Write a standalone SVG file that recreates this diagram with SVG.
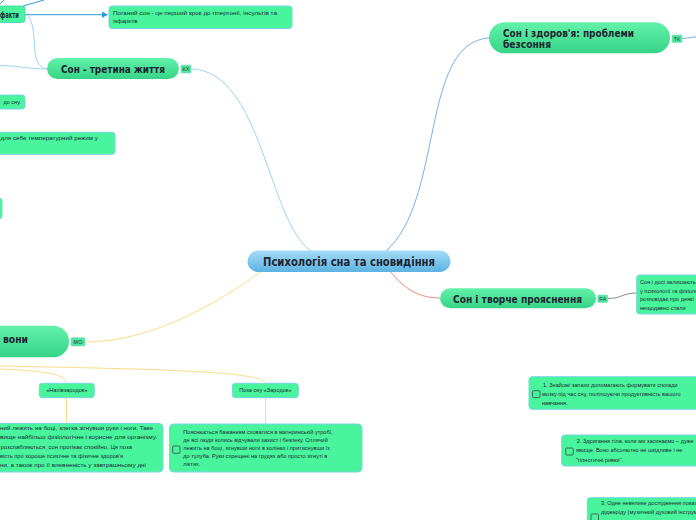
<svg xmlns="http://www.w3.org/2000/svg" width="696" height="520" viewBox="0 0 696 520">
<defs>
<linearGradient id="gMain" x1="0" y1="0" x2="0" y2="1"><stop offset="0" stop-color="#62f2aa"/><stop offset="1" stop-color="#36d487"/></linearGradient>
<linearGradient id="gCenter" x1="0" y1="0" x2="0" y2="1"><stop offset="0" stop-color="#a6dcf6"/><stop offset="1" stop-color="#5cb2e2"/></linearGradient>
<marker id="arr" markerWidth="6" markerHeight="6" refX="5" refY="3" orient="auto" markerUnits="userSpaceOnUse"><path d="M0,0 L6,3 L0,6 z" fill="#2a9ae0"/></marker>
<style>
.main{fill:url(#gMain)}
.leaf{fill:#48f59c;stroke:#78d4e4;stroke-width:1}
.tag{fill:#52e69e;stroke:#7ad8c8;stroke-width:0.6}
.t1{font-family:"DejaVu Sans",sans-serif;font-weight:bold;fill:#1e2430}
.tt{font-family:"Liberation Sans",sans-serif;font-size:5.5px;fill:#2a3340}
.ts{font-family:"Liberation Sans",sans-serif;font-size:5.6px;fill:#1e2a30}
.cb{fill:none;stroke:#444;stroke-width:0.8}
.c{fill:none;stroke-width:1}
</style>
</defs>
<rect width="696" height="520" fill="#ffffff"/>
<g id="connectors">
<path class="c" d="M23,6 L44,0" stroke="#2a9ae0"/>
<path class="c" d="M0,4 L4,0" stroke="#2a9ae0"/>
<path class="c" d="M25,14.7 L107,14.7" stroke="#2a9ae0" marker-end="url(#arr)"/>
<path class="c" d="M27,15 C34,20 34,40 35,52 C36,62 40,68 47,69" stroke="#9cd4f0"/>
<path class="c" d="M0,65.5 C20,66 30,69 47,69" stroke="#9cd4f0"/>
<path class="c" d="M191,69 C262,70 268,222 311,251" stroke="#9cd4f0"/>
<path class="c" d="M386,251 C444,200 420,42 489,38" stroke="#7ab0ea"/>
<path class="c" d="M682,38.5 C688,38.5 690,37 696,37" stroke="#7ab0ea"/>
<path class="c" d="M390,271 C405,290 420,298 440,298" stroke="#f08a78"/>
<path class="c" d="M607.7,298.5 C622,298.5 622,293 637,293" stroke="#8a8a8a"/>
<path class="c" d="M85,342 C150,342 215,305 262,271" stroke="#ffd98a"/>
<path class="c" d="M0,369 C45,371 66,374 66,383" stroke="#ffd98a"/>
<path class="c" d="M0,366 C150,369 262,371 265,383" stroke="#ffd98a"/>
<path class="c" d="M66.5,397.5 L66.5,423.5" stroke="#ffd98a"/>
<path class="c" d="M265.5,397.5 L265.5,423.5" stroke="#ffd98a"/>
</g>
<g id="center">
<rect x="247.5" y="250.5" width="203" height="21.5" rx="10.75" fill="url(#gCenter)"/>
<text class="t1" x="349" y="266" font-size="12" text-anchor="middle" textLength="172" lengthAdjust="spacingAndGlyphs">Психологія сна та сновидіння</text>
</g>
<g id="fakty">
<rect x="-20" y="6" width="45" height="16.5" rx="3" fill="#48f59c" stroke="#3fcfb8" stroke-width="0.8"/>
<text class="t1" x="0" y="17.5" font-size="9" textLength="19" lengthAdjust="spacingAndGlyphs">факти</text>
</g>
<g id="leaf-poganyi">
<rect x="109" y="6" width="183" height="22.5" rx="3" class="leaf"/>
<text class="ts" x="113" y="15.2" textLength="164" lengthAdjust="spacingAndGlyphs">Поганий сон - це перший крок до гіпертонії, інсультів та</text>
<text class="ts" x="113" y="23.3">інфарктів</text>
</g>
<g id="son-tretyna">
<rect x="47" y="58" width="132" height="21" rx="10.5" class="main"/>
<text class="t1" x="113" y="72.8" font-size="10" text-anchor="middle" textLength="104" lengthAdjust="spacingAndGlyphs">Сон - третина життя</text>
<rect x="181" y="65" width="10" height="8" rx="1" class="tag"/>
<text class="tt" x="186" y="71.2" text-anchor="middle">КХ</text>
</g>
<g id="leaf-do-snu">
<rect x="-20" y="95" width="45" height="14" rx="3" class="leaf"/>
<text class="ts" x="21" y="103.7" text-anchor="end">до сну.</text>
</g>
<g id="leaf-temperatura">
<rect x="-30" y="132.3" width="145" height="22" rx="3" class="leaf"/>
<text class="ts" x="0.5" y="140.2" textLength="97.5" lengthAdjust="spacingAndGlyphs">для себе температурний режим у</text>
</g>
<g id="leaf-small">
<rect x="-30" y="198" width="32" height="21" rx="3" class="leaf"/>
</g>
<g id="son-zdorovia">
<rect x="489" y="22.3" width="181" height="31" rx="15.5" class="main"/>
<text class="t1" x="503" y="37" font-size="10" textLength="131" lengthAdjust="spacingAndGlyphs">Сон і здоров'я: проблеми</text>
<text class="t1" x="503" y="48" font-size="10" textLength="48" lengthAdjust="spacingAndGlyphs">безсоння</text>
<rect x="672" y="35" width="10" height="7.5" rx="1" class="tag"/>
<text class="tt" x="677" y="41" text-anchor="middle">ТК</text>
</g>
<g id="son-tvorche">
<rect x="440" y="288.3" width="156" height="20" rx="10" class="main"/>
<text class="t1" x="517.5" y="302.5" font-size="10" text-anchor="middle" textLength="129" lengthAdjust="spacingAndGlyphs">Сон і творче прояснення</text>
<rect x="597.7" y="295" width="10" height="7.5" rx="1" class="tag"/>
<text class="tt" x="602.7" y="301" text-anchor="middle">FA</text>
</g>
<g id="leaf-son-dosi">
<rect x="636.7" y="275" width="80" height="39" rx="3" class="leaf"/>
<text class="ts" x="640" y="284.3">Сон і досі залишаються</text>
<text class="ts" x="640" y="292.7">у психології та фізіології</text>
<text class="ts" x="640" y="301">розповідає про деякі</text>
<text class="ts" x="640" y="309.6">нещодавно стали</text>
</g>
<g id="leaf-1">
<rect x="529" y="376.7" width="200" height="32.6" rx="3" class="leaf"/>
<rect x="532.5" y="390.7" width="7.5" height="6.8" rx="1" class="cb"/>
<text class="ts" x="543" y="387">1. Знайомі запахи допомагають формувати спогади</text>
<text class="ts" x="542" y="396">мозку під час сну, поліпшуючи продуктивність вашого</text>
<text class="ts" x="542" y="405.3">навчання.</text>
</g>
<g id="leaf-2">
<rect x="561.7" y="435" width="170" height="31" rx="3" class="leaf"/>
<rect x="565.7" y="448" width="7.5" height="7" rx="1" class="cb"/>
<text class="ts" x="576.7" y="443">2. Здригання тіла, коли ми засинаємо – дуже</text>
<text class="ts" x="576" y="452">явище. Воно абсолютно не шкідливе і не</text>
<text class="ts" x="576" y="462">"гіпнотичні ривки".</text>
</g>
<g id="leaf-3">
<rect x="587.3" y="497.7" width="140" height="40" rx="3" class="leaf"/>
<rect x="591" y="514" width="7.5" height="7" rx="1" class="cb"/>
<text class="ts" x="601" y="505.3">3. Одне невелике дослідження показало</text>
<text class="ts" x="601" y="513.7">діджеріду (музичний духовий інструмент)</text>
</g>
<g id="vony">
<rect x="-60" y="325.7" width="129" height="31.6" rx="15.8" class="main" fill="#48f59c"/>
<text class="t1" x="3" y="342.5" font-size="10" textLength="25" lengthAdjust="spacingAndGlyphs">вони</text>
<rect x="71" y="337.7" width="14" height="8.3" rx="1" class="tag"/>
<text class="tt" x="78" y="344" text-anchor="middle">МО</text>
</g>
<g id="napivzarodok">
<rect x="39.3" y="383.3" width="55" height="14.4" rx="3" class="leaf"/>
<text class="ts" x="66.8" y="392.3" text-anchor="middle">«Напівзародок»</text>
</g>
<g id="poza-zarodok">
<rect x="232.3" y="383.3" width="66" height="14.4" rx="3" class="leaf"/>
<text class="ts" x="265.3" y="392.3" text-anchor="middle">Поза сну «Зародок»</text>
</g>
<g id="leaf-napiv-text">
<rect x="-40" y="423.5" width="203" height="48.5" rx="4" class="leaf"/>
<text class="ts" x="0" y="429.6" textLength="153" lengthAdjust="spacingAndGlyphs">ний лежить на боці, злегка зігнувши руки і ноги. Таке</text>
<text class="ts" x="0" y="439" textLength="157" lengthAdjust="spacingAndGlyphs">вище найбільш фізіологічне і корисне для організму.</text>
<text class="ts" x="0.5" y="448.8" textLength="131.5" lengthAdjust="spacingAndGlyphs">розслабляються, сон протікає спокійно. Ця поза</text>
<text class="ts" x="0" y="457.8" textLength="123" lengthAdjust="spacingAndGlyphs">вість про хороше психічне та фізичне здоров'я</text>
<text class="ts" x="0" y="466.5" textLength="146" lengthAdjust="spacingAndGlyphs">ни, а також про її впевненість у завтрашньому дні</text>
</g>
<g id="leaf-zarodok-text">
<rect x="169.5" y="424" width="192.5" height="48" rx="4" class="leaf"/>
<rect x="172.7" y="446" width="7.3" height="7.3" rx="1" class="cb"/>
<text class="ts" x="183.3" y="433.7">Пояснюється бажанням сховатися в материнській утробі,</text>
<text class="ts" x="183.3" y="441.5">де всі люди колись відчували захист і безпеку. Сплячий</text>
<text class="ts" x="183.3" y="450.3">лежить на боці, зігнувши ноги в колінах і притиснувши їх</text>
<text class="ts" x="183.3" y="458">до тулуба. Руки схрещені на грудях або просто зігнуті в</text>
<text class="ts" x="183.3" y="466.3">ліктях.</text>
</g>
</svg>
